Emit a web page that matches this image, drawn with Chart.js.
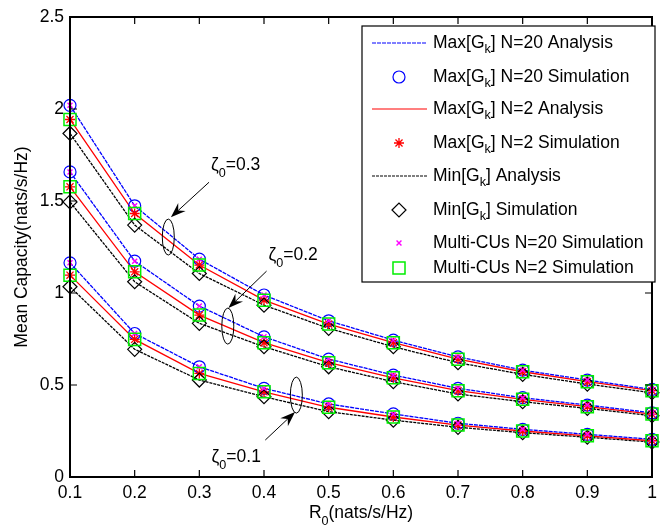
<!DOCTYPE html>
<html>
<head>
<meta charset="utf-8">
<script src="https://cdn.jsdelivr.net/npm/chart.js@4.4.1/dist/chart.umd.min.js"></script>
<style>
  html, body { margin: 0; padding: 0; background: #fff; }
</style>
</head>
<body>
<canvas id="capacityChart" width="662" height="530"></canvas>
<script>
// R0 values on the x axis
const rates = [0.1, 0.2, 0.3, 0.4, 0.5, 0.6, 0.7, 0.8, 0.9, 1.0];
const xTicks = [0.1, 0.2, 0.3, 0.4, 0.5, 0.6, 0.7, 0.8, 0.9, 1.0];
const yTicks = [0, 0.5, 1, 1.5, 2, 2.5];

// zeta0 = 0.3
const maxN20_z03 = [2.020, 1.474, 1.184, 0.989, 0.849, 0.744, 0.653, 0.581, 0.527, 0.476];
const maxN2_z03  = [1.943, 1.432, 1.152, 0.961, 0.831, 0.730, 0.640, 0.572, 0.518, 0.469];
const min_z03    = [1.867, 1.369, 1.106, 0.934, 0.808, 0.708, 0.621, 0.558, 0.505, 0.458];
// zeta0 = 0.2
const maxN20_z02 = [1.658, 1.173, 0.929, 0.762, 0.641, 0.554, 0.482, 0.431, 0.391, 0.349];
const maxN2_z02  = [1.577, 1.115, 0.880, 0.730, 0.621, 0.539, 0.469, 0.422, 0.382, 0.342];
const min_z02    = [1.495, 1.061, 0.835, 0.708, 0.599, 0.518, 0.451, 0.409, 0.373, 0.333];
// zeta0 = 0.1
const maxN20_z01 = [1.164, 0.780, 0.599, 0.482, 0.397, 0.343, 0.292, 0.259, 0.232, 0.205];
const maxN2_z01  = [1.097, 0.748, 0.563, 0.463, 0.379, 0.326, 0.282, 0.250, 0.224, 0.197];
const min_z01    = [1.034, 0.694, 0.527, 0.436, 0.355, 0.309, 0.270, 0.241, 0.216, 0.190];

const groups = [
  { hi: maxN20_z03, mid: maxN2_z03, lo: min_z03 },
  { hi: maxN20_z02, mid: maxN2_z02, lo: min_z02 },
  { hi: maxN20_z01, mid: maxN2_z01, lo: min_z01 }
];

const FONT = '"Liberation Sans", Arial, sans-serif';
const BLUE = '#0000ff', RED = '#ff0000', BLACK = '#000000', MAGENTA = '#ff00ff', GREEN = '#00ee00';

// styles shared by chart and hand-drawn legend
const styles = {
  lineN20: { color: BLUE, dash: [4, 1] },
  lineN2:  { color: RED, dash: [] },
  lineMin: { color: BLACK, dash: [3, 1] },
  circle:  { pointStyle: 'circle', radius: 6, color: BLUE, width: 1.2 },
  star:    { pointStyle: 'star', radius: 5, color: RED, width: 1.3 },
  diamond: { pointStyle: 'rectRot', radius: 7, color: BLACK, width: 1.2 },
  cross:   { pointStyle: 'crossRot', radius: 3.5, color: MAGENTA, width: 1.4 },
  square:  { pointStyle: 'rect', radius: 8.5, color: GREEN, width: 1.5 }
};

const pts = arr => rates.map((r, i) => ({ x: r, y: arr[i] }));

function lineSet(arr, st) {
  return {
    data: pts(arr), showLine: true, pointRadius: 0, borderColor: st.color,
    borderWidth: 1.3, borderDash: st.dash, order: 10, clip: false
  };
}
function markSet(arr, st, order) {
  return {
    data: pts(arr), showLine: false, pointStyle: st.pointStyle, pointRadius: st.radius,
    pointBorderColor: st.color, pointBackgroundColor: 'rgba(0,0,0,0)',
    pointBorderWidth: st.width, order: order, clip: false
  };
}

const datasets = [];
groups.forEach(g => {
  datasets.push(lineSet(g.hi, styles.lineN20));
  datasets.push(lineSet(g.mid, styles.lineN2));
  datasets.push(lineSet(g.lo, styles.lineMin));
  datasets.push(markSet(g.hi, styles.circle, 5));
  datasets.push(markSet(g.mid, styles.star, 4));
  datasets.push(markSet(g.lo, styles.diamond, 3));
  datasets.push(markSet(g.hi, styles.cross, 2));
  datasets.push(markSet(g.mid, styles.square, 1));
});

// annotation anchors in data units
const notes = [
  { label: '0.3', text: [0.318, 1.668], from: [0.315, 1.602], to: [0.256, 1.412], ell: [0.252, 1.304] },
  { label: '0.2', text: [0.407, 1.179], from: [0.404, 1.119], to: [0.345, 0.918], ell: [0.344, 0.820] },
  { label: '0.1', text: [0.319, 0.081], from: [0.402, 0.201], to: [0.448, 0.353], ell: [0.450, 0.445] }
];

const legendRows = [
  { parts: [['Max[G'], ['k', 1], ['] N=20 Analysis']], line: styles.lineN20 },
  { parts: [['Max[G'], ['k', 1], ['] N=20 Simulation']], mark: styles.circle },
  { parts: [['Max[G'], ['k', 1], ['] N=2 Analysis']], line: styles.lineN2 },
  { parts: [['Max[G'], ['k', 1], ['] N=2 Simulation']], mark: styles.star },
  { parts: [['Min[G'], ['k', 1], ['] Analysis']], line: styles.lineMin },
  { parts: [['Min[G'], ['k', 1], ['] Simulation']], mark: styles.diamond },
  { parts: [['Multi-CUs N=20 Simulation']], mark: styles.cross },
  { parts: [['Multi-CUs N=2 Simulation']], mark: styles.square }
];
const legendY = [43, 77, 109, 143, 176, 210, 243, 268];

function drawRich(ctx, parts, x, y, size) {
  let cx = x;
  parts.forEach(([t, sub]) => {
    ctx.font = (sub ? size * 0.72 : size) + 'px ' + FONT;
    ctx.fillText(t, cx, sub ? y + size * 0.38 : y);
    cx += ctx.measureText(t).width;
  });
  return cx - x;
}

function arrow(ctx, x1, y1, x2, y2) {
  const ang = Math.atan2(y2 - y1, x2 - x1);
  const len = 15, half = 5.5, notch = 10;
  ctx.beginPath();
  ctx.moveTo(x1, y1);
  ctx.lineTo(x2 - Math.cos(ang) * notch, y2 - Math.sin(ang) * notch);
  ctx.stroke();
  const bx = x2 - Math.cos(ang) * len, by = y2 - Math.sin(ang) * len;
  const nx = -Math.sin(ang) * half, ny = Math.cos(ang) * half;
  ctx.beginPath();
  ctx.moveTo(x2, y2);
  ctx.lineTo(bx + nx, by + ny);
  ctx.lineTo(x2 - Math.cos(ang) * notch, y2 - Math.sin(ang) * notch);
  ctx.lineTo(bx - nx, by - ny);
  ctx.closePath();
  ctx.fill();
}

const matlabLook = {
  id: 'matlabLook',
  afterDatasetsDraw(chart) {
    const { ctx, scales: { x, y } } = chart;
    ctx.save();
    ctx.strokeStyle = BLACK;
    ctx.fillStyle = BLACK;
    ctx.lineWidth = 1;
    ctx.textBaseline = 'alphabetic';
    notes.forEach(n => {
      const ex = x.getPixelForValue(n.ell[0]), ey = y.getPixelForValue(n.ell[1]);
      ctx.beginPath();
      ctx.ellipse(ex, ey, 6, 18, 0, 0, Math.PI * 2);
      ctx.stroke();
      arrow(ctx, x.getPixelForValue(n.from[0]), y.getPixelForValue(n.from[1]),
        x.getPixelForValue(n.to[0]), y.getPixelForValue(n.to[1]));
      drawRich(ctx, [['\u03b6'], ['0', 1], ['=' + n.label]],
        x.getPixelForValue(n.text[0]), y.getPixelForValue(n.text[1]), 17.5);
    });
    ctx.restore();
  },
  afterDraw(chart) {
    const { ctx, chartArea: a, scales: { x, y } } = chart;
    ctx.save();
    // axes box with inward ticks on all sides
    ctx.strokeStyle = BLACK;
    ctx.lineWidth = 2;
    ctx.strokeRect(a.left, a.top, a.right - a.left, a.bottom - a.top);
    ctx.lineWidth = 1.2;
    ctx.beginPath();
    xTicks.forEach(v => {
      const px = x.getPixelForValue(v);
      ctx.moveTo(px, a.bottom); ctx.lineTo(px, a.bottom - 7);
      ctx.moveTo(px, a.top); ctx.lineTo(px, a.top + 7);
    });
    yTicks.forEach(v => {
      const py = y.getPixelForValue(v);
      ctx.moveTo(a.left, py); ctx.lineTo(a.left + 7, py);
      ctx.moveTo(a.right, py); ctx.lineTo(a.right - 7, py);
    });
    ctx.stroke();

    // axis titles
    ctx.fillStyle = BLACK;
    ctx.textBaseline = 'alphabetic';
    const xt = [['R'], ['0', 1], ['(nats/s/Hz)']];
    let w = 0;
    xt.forEach(([t, sub]) => { ctx.font = (sub ? 12.6 : 17.5) + 'px ' + FONT; w += ctx.measureText(t).width; });
    drawRich(ctx, xt, (a.left + a.right) / 2 - w / 2, 518, 17.5);
    ctx.save();
    ctx.translate(27, (a.top + a.bottom) / 2);
    ctx.rotate(-Math.PI / 2);
    ctx.font = '17.5px ' + FONT;
    ctx.textAlign = 'center';
    ctx.fillText('Mean Capacity(nats/s/Hz)', 0, 0);
    ctx.restore();

    // legend
    const lx = 362, ly = 26, lw = 293, lh = 256;
    ctx.fillStyle = '#fff';
    ctx.fillRect(lx, ly, lw, lh);
    ctx.strokeStyle = BLACK;
    ctx.lineWidth = 1.2;
    ctx.strokeRect(lx, ly, lw, lh);
    ctx.textBaseline = 'middle';
    legendRows.forEach((row, i) => {
      const ry = legendY[i];
      if (row.line) {
        ctx.save();
        ctx.strokeStyle = row.line.color;
        ctx.lineWidth = 1.2;
        ctx.setLineDash(row.line.dash);
        ctx.beginPath();
        ctx.moveTo(372, ry); ctx.lineTo(427, ry);
        ctx.stroke();
        ctx.restore();
      } else {
        ctx.save();
        ctx.strokeStyle = row.mark.color;
        ctx.fillStyle = 'rgba(0,0,0,0)';
        ctx.lineWidth = row.mark.width;
        Chart.helpers.drawPoint(ctx, {
          pointStyle: row.mark.pointStyle, radius: row.mark.radius,
          rotation: 0, borderWidth: row.mark.width
        }, 399, ry);
        ctx.restore();
      }
      ctx.fillStyle = BLACK;
      drawRich(ctx, row.parts, 433, ry, 17.5);
    });
    ctx.restore();
  }
};

new Chart(document.getElementById('capacityChart'), {
  type: 'scatter',
  data: { datasets: datasets },
  options: {
    responsive: false,
    animation: false,
    devicePixelRatio: 1,
    layout: { padding: { top: 17, right: 2, left: 0, bottom: 0 } },
    plugins: { legend: { display: false }, tooltip: { enabled: false } },
    scales: {
      x: {
        type: 'linear', min: 0.1, max: 1,
        grid: { display: false, drawTicks: false },
        border: { display: false },
        afterFit: s => { s.height = 53; s.paddingLeft = 0; s.paddingRight = 0; },
        afterBuildTicks: s => { s.ticks = xTicks.map(v => ({ value: v })); },
        ticks: {
          padding: 6, color: BLACK, maxRotation: 0, autoSkip: false,
          font: { family: FONT, size: 17.5 },
          callback: v => String(Math.round(v * 10) / 10)
        }
      },
      y: {
        type: 'linear', min: 0, max: 2.5,
        grid: { display: false, drawTicks: false },
        border: { display: false },
        afterFit: s => { s.width = 70; s.paddingTop = 0; s.paddingBottom = 0; },
        afterBuildTicks: s => { s.ticks = yTicks.map(v => ({ value: v })); },
        ticks: {
          padding: 6, color: BLACK,
          font: { family: FONT, size: 17.5 },
          callback: v => String(v)
        }
      }
    }
  },
  plugins: [matlabLook]
});
</script>
</body>
</html>
